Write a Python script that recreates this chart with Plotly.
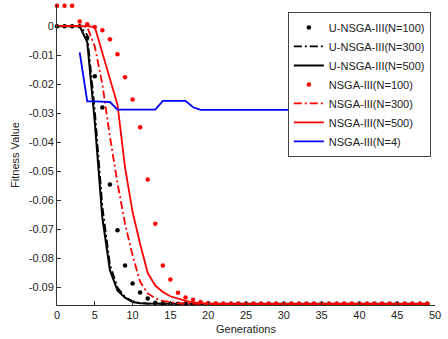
import plotly.graph_objects as go

F = -0.0956

generations = list(range(50))

u_nsga_100 = [0, 0, 0, 0, -0.004, -0.0172, -0.028, -0.0545, -0.0703, -0.0824,
              -0.0886, -0.0917, -0.0938, -0.0952, -0.0955] + [F] * 35
u_nsga_300 = [0, 0, 0, 0, -0.003, -0.029, -0.062, -0.082, -0.0900, -0.0932,
              -0.0947, -0.0953, -0.0955] + [F] * 37
u_nsga_500 = [0, 0, 0, 0, -0.0055, -0.033, -0.066, -0.084, -0.091, -0.0935,
              -0.0950, -0.0954, -0.0955] + [F] * 37
nsga_100 = [0.007, 0.007, 0.007, 0.0016, 0.0007, -0.0003, -0.0014, -0.0045, -0.0097, -0.0176,
            -0.0252, -0.0348, -0.0528, -0.068, -0.0824, -0.0872, -0.0918, -0.0934, -0.0942, -0.0950,
            -0.0953, -0.0955] + [F] * 28
nsga_300 = [0, 0, 0, 0, -0.0003, -0.007, -0.020, -0.038, -0.054, -0.068,
            -0.079, -0.088, -0.092, -0.0937, -0.0946, -0.0951, -0.0954, -0.0955] + [F] * 32
nsga_500 = [0, 0, 0, 0, 0, -0.0003, -0.009, -0.018, -0.027, -0.0486,
            -0.064, -0.075, -0.085, -0.0893, -0.0915, -0.093, -0.0938, -0.0946, -0.0951, -0.0954,
            -0.0955] + [F] * 29
nsga_4 = [None, None, None, -0.009, -0.0259, -0.0259, -0.0259, -0.0261, -0.0287, -0.0287,
          -0.0287, -0.0287, -0.0287, -0.0287, -0.0257, -0.0257, -0.0257, -0.0257, -0.0279] + [-0.0288] * 31

y_ticks = [0, -0.01, -0.02, -0.03, -0.04, -0.05, -0.06, -0.07, -0.08, -0.09]
y_tick_text = ["0", "-0.01", "-0.02", "-0.03", "-0.04", "-0.05", "-0.06", "-0.07", "-0.08", "-0.09"]
x_ticks = [0, 5, 10, 15, 20, 25, 30, 35, 40, 45, 50]

FONT = "Liberation Sans, Arial, Helvetica, sans-serif"
DASHDOT = "8px,3px,2px,3px"

fig = go.Figure()
fig.add_trace(go.Scatter(x=generations, y=u_nsga_100, mode="markers", name="U-NSGA-III(N=100)",
                         cliponaxis=False,
                         marker=dict(color="black", size=4.5, symbol="circle")))
fig.add_trace(go.Scatter(x=generations, y=u_nsga_300, mode="lines", name="U-NSGA-III(N=300)",
                         line=dict(color="black", width=1.8, dash=DASHDOT)))
fig.add_trace(go.Scatter(x=generations, y=u_nsga_500, mode="lines", name="U-NSGA-III(N=500)",
                         line=dict(color="black", width=2)))
fig.add_trace(go.Scatter(x=generations, y=nsga_100, mode="markers", name="NSGA-III(N=100)",
                         cliponaxis=False,
                         marker=dict(color="red", size=4.5, symbol="circle")))
fig.add_trace(go.Scatter(x=generations, y=nsga_300, mode="lines", name="NSGA-III(N=300)",
                         line=dict(color="red", width=1.8, dash=DASHDOT)))
fig.add_trace(go.Scatter(x=generations, y=nsga_500, mode="lines", name="NSGA-III(N=500)",
                         line=dict(color="red", width=1.8)))
fig.add_trace(go.Scatter(x=generations, y=nsga_4, mode="lines", name="NSGA-III(N=4)",
                         line=dict(color="blue", width=1.8)))

axis_common = dict(showline=True, linecolor="#333", linewidth=1, ticks="inside", ticklen=4,
                   tickcolor="#333", showgrid=False, zeroline=False, mirror=False,
                   tickfont=dict(family=FONT, size=11, color="#222"))

fig.update_layout(
    width=448, height=339,
    margin=dict(l=57, r=13, t=5, b=34),
    paper_bgcolor="white", plot_bgcolor="white",
    font=dict(family=FONT, size=11, color="#222"),
    xaxis=dict(range=[0, 50], tickvals=x_ticks,
               title=dict(text="Generations", font=dict(family=FONT, size=11), standoff=5),
               **axis_common),
    yaxis=dict(range=[-0.0960, 0.0073], tickvals=y_ticks, ticktext=y_tick_text,
               title=dict(text="Fitness Value", font=dict(family=FONT, size=11), standoff=6),
               **axis_common),
    legend=dict(x=0.989, y=0.977, xanchor="right", yanchor="top",
                bgcolor="white", bordercolor="#444", borderwidth=1,
                font=dict(family=FONT, size=11, color="#222"),
                itemwidth=30, tracegroupgap=0),
    showlegend=True,
)

fig.write_html("out.html")
